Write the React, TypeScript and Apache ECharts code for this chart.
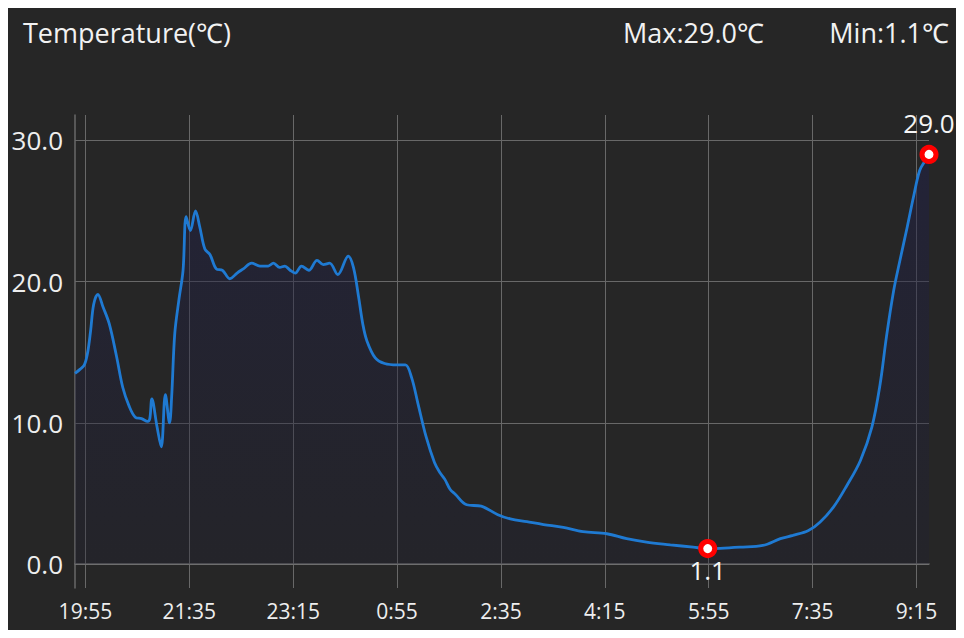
import React, { useEffect, useRef } from "react";
import * as echarts from "echarts";

// one category per minute, 19:45 -> 9:27
const START_MIN = 19 * 60 + 45;
const MINUTES = 823;
const fmtTime = (m: number) => {
  const t = (START_MIN + m) % (24 * 60);
  return `${Math.floor(t / 60)}:${String(t % 60).padStart(2, "0")}`;
};
const categories = Array.from({ length: MINUTES }, (_, i) => fmtTime(i));

// readings (time, ℃)
const times = [
  "19:45", "19:50", "19:54", "19:57", "20:00", "20:03", "20:07", "20:12", "20:18", "20:25",
  "20:31", "20:37", "20:43", "20:49", "20:55", "20:57", "20:59", "21:04", "21:08", "21:12",
  "21:16", "21:18", "21:21", "21:25", "21:29", "21:32", "21:36", "21:41", "21:45", "21:50",
  "21:55", "22:01", "22:07", "22:14", "22:21", "22:27", "22:35", "22:43", "22:51", "22:56",
  "23:02", "23:07", "23:12", "23:17", "23:23", "23:30", "23:38", "23:44", "23:50", "23:58",
  "0:08", "0:13", "0:18", "0:22", "0:26", "0:34", "0:43", "0:55", "1:03", "1:09",
  "1:15", "1:23", "1:31", "1:36", "1:41", "1:46", "1:51", "2:02", "2:16", "2:32",
  "2:44", "3:00", "3:16", "3:35", "3:54", "4:17", "4:36", "4:55", "5:18", "5:40",
  "5:54", "6:06", "6:25", "6:47", "7:04", "7:16", "7:31", "7:42", "7:55", "8:08",
  "8:21", "8:32", "8:40", "8:46", "8:53", "8:59", "9:06", "9:12", "9:18", "9:23",
  "9:27",
];
const temps = [
  13.5, 13.8, 14.1, 14.9, 16.5, 18.4, 19.1, 18.2, 17.0, 14.7,
  12.5, 11.2, 10.4, 10.3, 10.1, 10.3, 11.7, 9.7, 8.3, 12.0,
  10.0, 11.8, 16.3, 18.7, 20.8, 24.6, 23.6, 25.0, 23.9, 22.3,
  21.9, 20.9, 20.8, 20.2, 20.6, 20.9, 21.3, 21.1, 21.1, 21.3,
  21.0, 21.1, 20.8, 20.6, 21.1, 20.8, 21.5, 21.2, 21.3, 20.5,
  21.8, 21.0, 18.9, 17.0, 15.8, 14.6, 14.2, 14.1, 14.1, 13.2,
  11.4, 9.0, 7.2, 6.5, 6.0, 5.3, 4.95, 4.2, 4.1, 3.5,
  3.2, 3.0, 2.8, 2.6, 2.3, 2.15, 1.8, 1.56, 1.37, 1.2,
  1.1, 1.12, 1.2, 1.32, 1.8, 2.03, 2.38, 2.97, 4.03, 5.57,
  7.34, 9.7, 12.77, 16.07, 19.37, 21.49, 23.85, 25.97, 27.86, 28.52,
  29.0,
];

const FONT = "'Open Sans'";
const showEvery100 = (i: number) => (i - 10) % 100 === 0;
const headStyle = { color: "#f2f2f2", fontSize: 27, fontWeight: "normal" as const, fontFamily: FONT };

const App: React.FC = () => {
  const chartRef = useRef<HTMLDivElement>(null);

  useEffect(() => {
    const chart = echarts.init(chartRef.current as HTMLDivElement, undefined, { renderer: "svg" });
    const maxT = Math.max(...temps);
    const minT = Math.min(...temps);
    const pad = (maxT - minT) * 0.1;

    const option: echarts.EChartsOption = {
      animation: false,
      backgroundColor: "#262626",
      textStyle: { fontFamily: FONT },
      title: [
        { text: "Temperature(℃)", left: 18, top: 14, textStyle: headStyle },
        { text: `Max:${maxT.toFixed(1)}℃`, left: 618, top: 14, textStyle: headStyle },
        { text: `Min:${minT.toFixed(1)}℃`, right: 10, top: 14, textStyle: headStyle },
      ],
      grid: { left: 75, right: 35, top: 115, bottom: 50 },
      xAxis: {
        type: "category",
        data: categories,
        boundaryGap: false,
        axisLine: { lineStyle: { color: "#707070", width: 1.5 } },
        axisTick: { show: false },
        axisLabel: {
          interval: showEvery100,
          color: "#eeeeee",
          fontSize: 21,
          margin: 12,
          fontFamily: FONT,
        },
        splitLine: {
          show: true,
          interval: showEvery100,
          lineStyle: { color: "#686868", width: 1 },
        },
      },
      yAxis: {
        type: "value",
        min: minT - pad,
        max: maxT + pad,
        splitNumber: 3,
        axisLine: { show: true, lineStyle: { color: "#686868", width: 1.5 } },
        axisTick: { show: false },
        axisLabel: {
          color: "#eeeeee",
          fontSize: 26,
          margin: 12,
          fontFamily: FONT,
          showMinLabel: false,
          showMaxLabel: false,
          formatter: (v: number) => v.toFixed(1),
        },
        splitLine: {
          showMinLine: false,
          showMaxLine: false,
          lineStyle: { color: "#686868", width: 1 },
        },
      },
      series: [
        {
          type: "line",
          data: times.map((t, i) => [t, temps[i]]),
          smooth: 0.35,
          showSymbol: false,
          lineStyle: { color: "#1f7ad2", width: 2.8 },
          itemStyle: { color: "#1f7ad2" },
          areaStyle: {
            color: new echarts.graphic.LinearGradient(0, 0, 0, 1, [
              { offset: 0, color: "rgba(32, 32, 72, 0.75)" },
              { offset: 1, color: "rgba(32, 32, 50, 0.45)" },
            ]),
          },
          markPoint: {
            symbol: "circle",
            symbolSize: 14,
            itemStyle: { color: "#ffffff", borderColor: "#ff0000", borderWidth: 5 },
            label: {
              show: true,
              position: "top",
              distance: 9,
              color: "#f5f5f5",
              fontSize: 26,
              fontFamily: FONT,
              formatter: (p: any) => Number(p.value).toFixed(1),
            },
            data: [
              { type: "max", name: "max" },
              { type: "min", name: "min", label: { position: "bottom", distance: -1 } },
            ],
          },
        },
      ],
    };

    chart.setOption(option);
    return () => {
      chart.dispose();
    };
  }, []);

  return <div ref={chartRef} style={{ width: 964, height: 638, margin: -8 }} />;
};

export default App;
